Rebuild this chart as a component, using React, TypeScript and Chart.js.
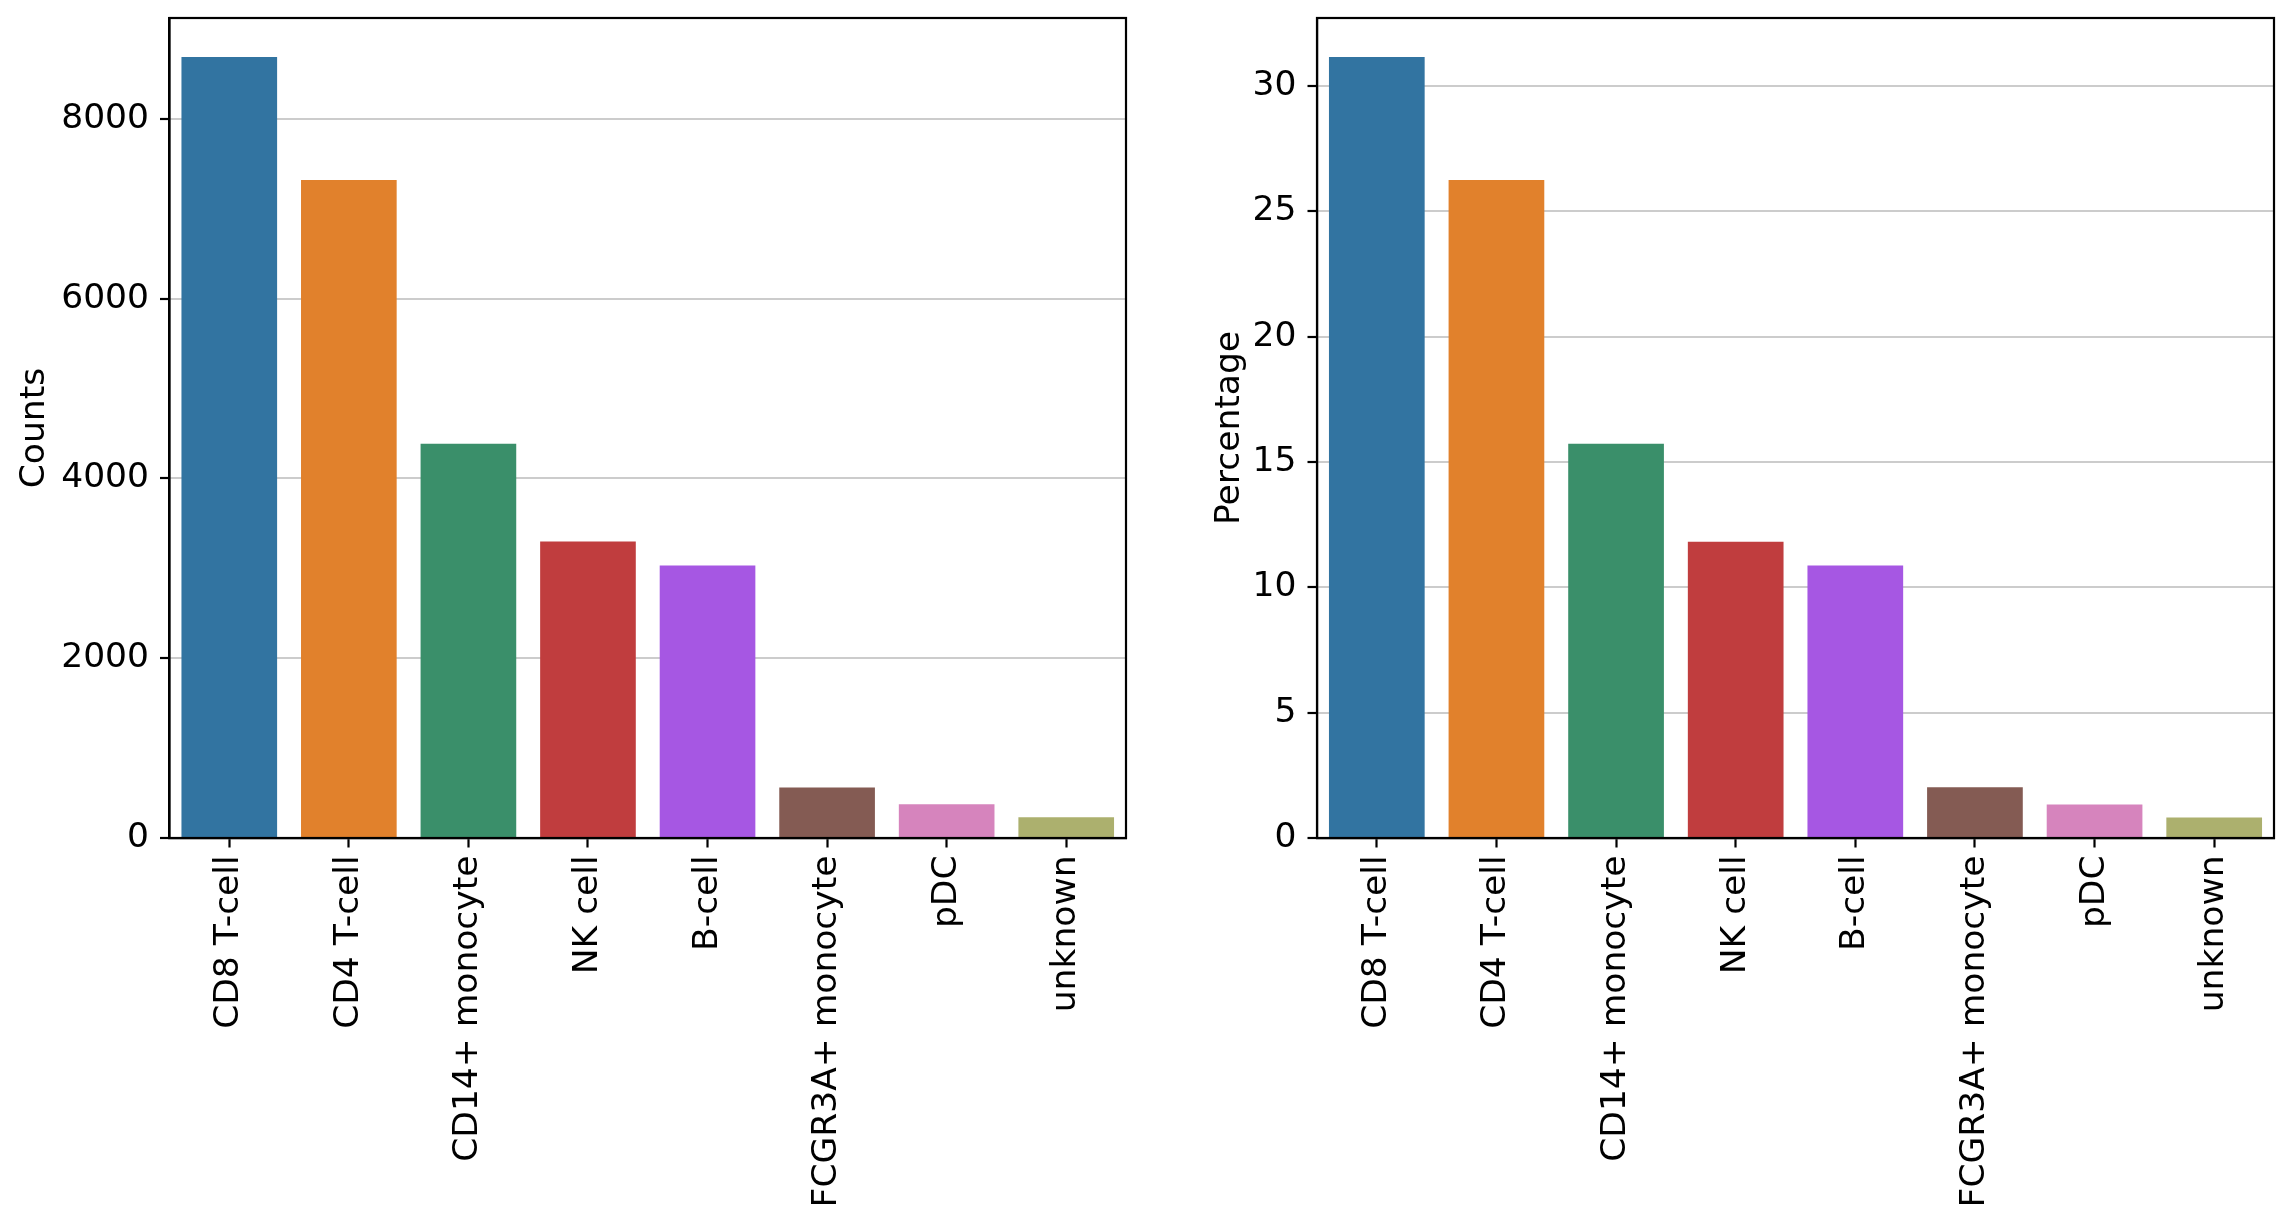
import React, { useEffect, useRef } from "react";
import { Chart, registerables } from "chart.js";

Chart.register(...registerables);

const categories = [
  "CD8 T-cell",
  "CD4 T-cell",
  "CD14+ monocyte",
  "NK cell",
  "B-cell",
  "FCGR3A+ monocyte",
  "pDC",
  "unknown",
];
const counts = [8686, 7319, 4386, 3297, 3030, 563, 374, 230];
const percentages = [31.15, 26.25, 15.73, 11.82, 10.87, 2.02, 1.34, 0.82];
const barColors = [
  "#3274a1",
  "#e1812c",
  "#3a8f6a",
  "#c03d3e",
  "#a657e3",
  "#845b53",
  "#d684bd",
  "#acb06e",
];

const FONT = "DejaVu Sans";
const FONT_SIZE = 34.5;
const W = 1146;
const H = 1231;

const frame = {
  id: "frame",
  afterDraw(chart: any) {
    const { ctx, chartArea } = chart;
    ctx.save();
    ctx.strokeStyle = "#000";
    ctx.lineWidth = 2.2;
    ctx.strokeRect(chartArea.left, chartArea.top, chartArea.right - chartArea.left, chartArea.bottom - chartArea.top);
    ctx.restore();
  },
};

function makeConfig(values: number[], title: string, step: number, yAxisWidth: number, rightPad: number, titlePad: number) {
  return {
    type: "bar",
    data: {
      labels: categories,
      datasets: [
        {
          data: values,
          backgroundColor: barColors,
          borderWidth: 0,
          categoryPercentage: 1,
          barPercentage: 0.8,
        },
      ],
    },
    plugins: [frame],
    options: {
      animation: false,
      responsive: false,
      devicePixelRatio: 1,
      layout: { padding: { top: 18, right: rightPad, bottom: 0, left: 0 } },
      plugins: { legend: { display: false }, tooltip: { enabled: false } },
      scales: {
        x: {
          type: "category",
          offset: true,
          grid: {
            display: true,
            drawOnChartArea: false,
            drawTicks: true,
            tickLength: 9.5,
            tickColor: "#000",
            tickWidth: 2.2,
            offset: false,
          },
          border: { display: true, color: "#000", width: 2.2 },
          ticks: {
            autoSkip: false,
            maxRotation: 90,
            minRotation: 90,
            padding: 8,
            color: "#000",
            font: { family: FONT, size: FONT_SIZE },
          },
          afterFit(scale: any) {
            scale.height = H - 838;
            scale.paddingLeft = 0;
            scale.paddingRight = 0;
          },
        },
        y: {
          min: 0,
          max: Math.max(...values) * 1.05,
          grid: {
            display: true,
            color: "#cccccc",
            lineWidth: 2,
            drawTicks: true,
            tickLength: 9.5,
            tickColor: "#000",
            tickWidth: 2.2,
          },
          border: { display: true, color: "#000", width: 2.2 },
          ticks: {
            stepSize: step,
            includeBounds: false,
            padding: 11,
            color: "#000",
            font: { family: FONT, size: FONT_SIZE },
            callback: (v: number) => String(v),
          },
          afterBuildTicks(scale: any) {
            const t: { value: number }[] = [];
            for (let v = 0; v <= scale.max + 1e-9; v += step) t.push({ value: v });
            scale.ticks = t;
          },
          title: {
            display: true,
            text: title,
            color: "#000",
            font: { family: FONT, size: FONT_SIZE },
            padding: { top: titlePad, bottom: 0 },
          },
          afterFit(scale: any) {
            scale.width = yAxisWidth;
            scale.paddingTop = 0;
            scale.paddingBottom = 0;
          },
        },
      },
    },
  } as any;
}

export default function App() {
  const leftRef = useRef<HTMLCanvasElement>(null);
  const rightRef = useRef<HTMLCanvasElement>(null);

  useEffect(() => {
    const c1 = new Chart(leftRef.current as HTMLCanvasElement, makeConfig(counts, "Counts", 2000, 169.5, 20, 14));
    const c2 = new Chart(rightRef.current as HTMLCanvasElement, makeConfig(percentages, "Percentage", 5, 171, 18, 63));
    return () => {
      c1.destroy();
      c2.destroy();
    };
  }, []);

  return (
    <div style={{ position: "fixed", left: 0, top: 0, width: 2292, height: 1231, background: "#fff" }}>
      <canvas ref={leftRef} width={W} height={H} style={{ position: "absolute", left: 0, top: 0, width: W, height: H }} />
      <canvas ref={rightRef} width={W} height={H} style={{ position: "absolute", left: W, top: 0, width: W, height: H }} />
    </div>
  );
}
